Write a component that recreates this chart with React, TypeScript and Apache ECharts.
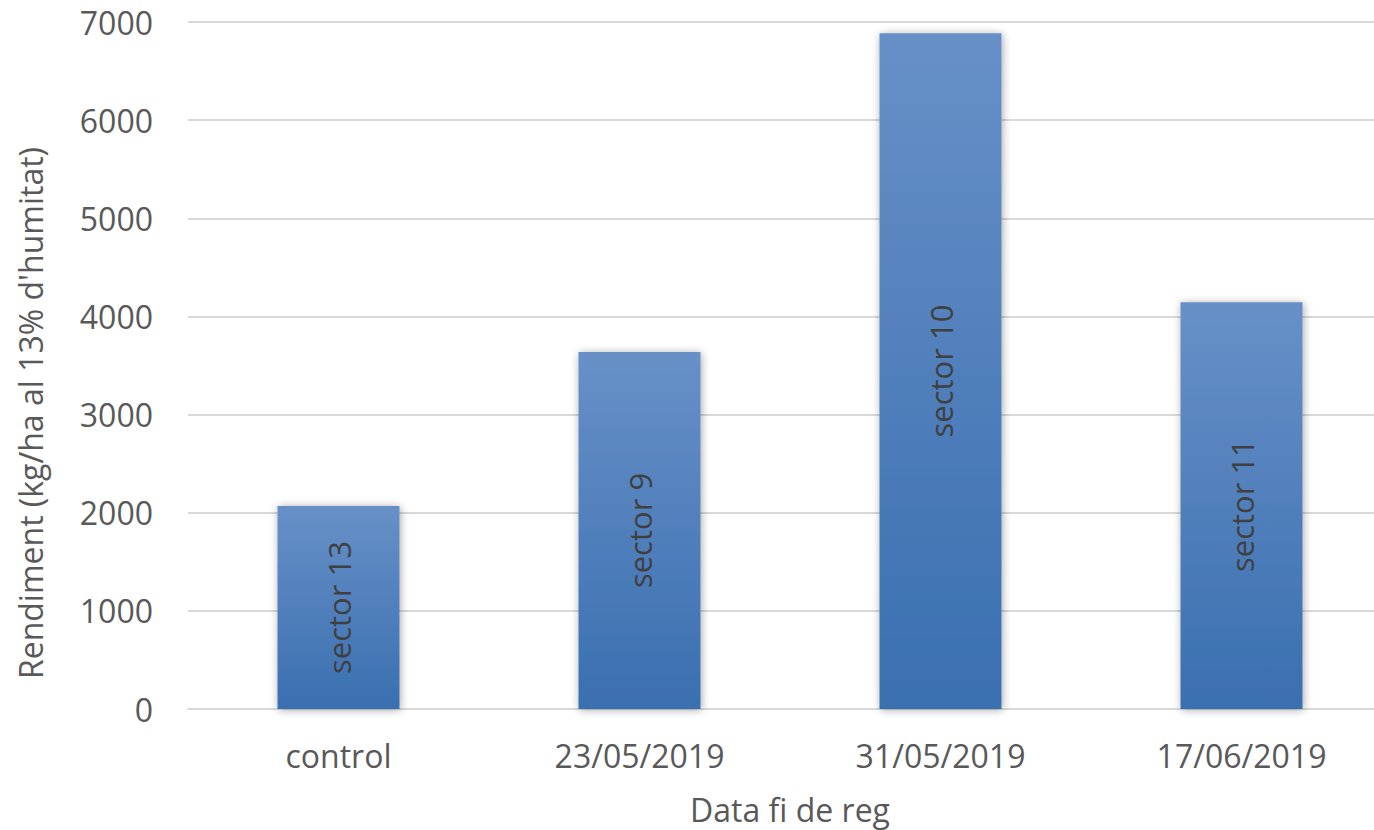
import React, { useEffect, useRef } from "react";
import * as echarts from "echarts";

const categories = ["control", "23/05/2019", "31/05/2019", "17/06/2019"];
const values = [2068, 3638, 6886, 4145];
const barLabels = ["sector 13", "sector 9", "sector 10", "sector 11"];
const yTicks = { min: 0, max: 7000, interval: 1000 };
const yTitle = "Rendiment (kg/ha al 13% d'humitat)";
const xTitle = "Data fi de reg";

export default function App() {
  const ref = useRef<HTMLDivElement>(null);
  useEffect(() => {
    document.body.style.margin = "0";
    const chart = echarts.init(ref.current!, null, { renderer: "svg" });
    const font = "'Open Sans', 'Noto Sans', sans-serif";
    chart.setOption({
      animation: false,
      grid: { left: 188, top: 22, width: 1204, height: 687, containLabel: false },
      graphic: [
        {
          type: "text",
          x: 30,
          y: 413,
          rotation: Math.PI / 2,
          style: {
            text: yTitle,
            fontSize: 32,
            fill: "#595959",
            fontFamily: font,
            align: "center",
            verticalAlign: "middle",
          },
        },
      ],
      xAxis: {
        type: "category",
        data: categories,
        name: xTitle,
        nameLocation: "middle",
        nameGap: 84,
        nameTextStyle: { fontSize: 32, color: "#595959", fontFamily: font },
        axisLine: { lineStyle: { color: "#d9d9d9", width: 2 } },
        axisTick: { show: false },
        axisLabel: { fontSize: 32, color: "#595959", fontFamily: font, margin: 30 },
      },
      yAxis: {
        type: "value",
        min: yTicks.min,
        max: yTicks.max,
        interval: yTicks.interval,
        axisLine: { show: false },
        axisTick: { show: false },
        axisLabel: {
          fontSize: 32,
          color: "#595959",
          fontFamily: font,
          margin: 35,
          formatter: (v: number) => String(v),
        },
        splitLine: { lineStyle: { color: "#d9d9d9", width: 2 } },
      },
      series: [
        {
          type: "bar",
          data: values.map((v, i) => ({
            value: v,
            label: { formatter: barLabels[i] },
          })),
          barWidth: 122,
          itemStyle: {
            color: new echarts.graphic.LinearGradient(0, 0, 0, 1, [
              { offset: 0, color: "#6790c7" },
              { offset: 1, color: "#3a6fb0" },
            ]),
            shadowColor: "rgba(0,0,0,0.35)",
            shadowBlur: 8,
            shadowOffsetX: 1,
            shadowOffsetY: 1,
          },
          label: {
            show: true,
            position: "inside",
            rotate: 90,
            fontSize: 31,
            color: "#404040",
            fontFamily: font,
          },
        },
      ],
    });
    return () => chart.dispose();
  }, []);
  return (
    <div style={{ width: 1374, height: 830, overflow: "hidden", position: "relative" }}>
      <div ref={ref} style={{ width: 1410, height: 830 }} />
    </div>
  );
}
